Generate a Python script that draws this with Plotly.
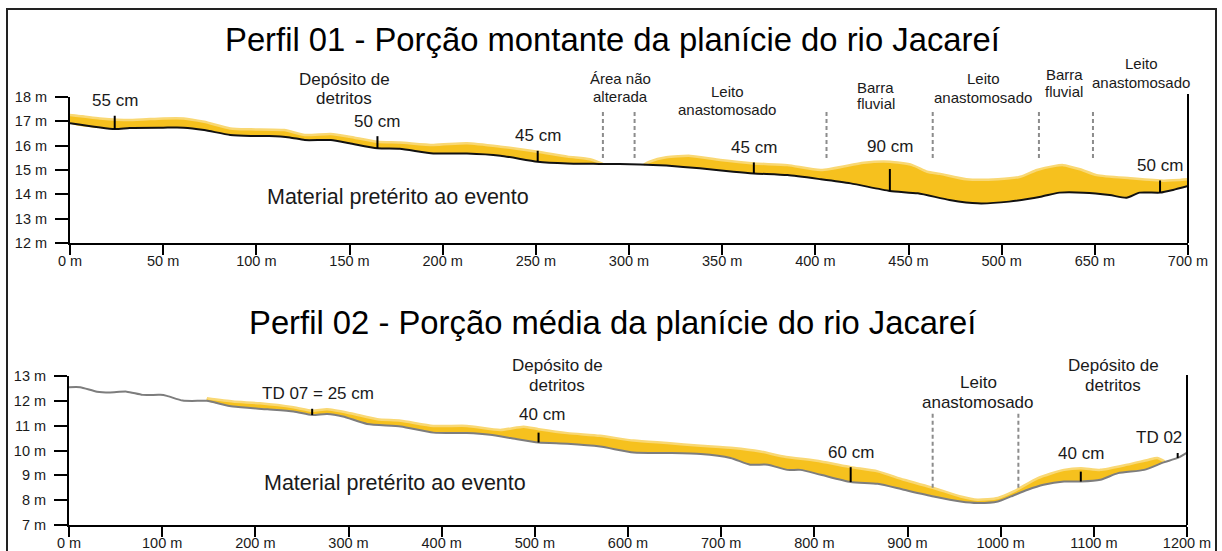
import numpy as np
import plotly.graph_objects as go

W, H = 1222, 551
FONT = "Arial, 'Liberation Sans', sans-serif"
INK = "#1a1a1a"
YELLOW = "#F6C11E"
YELLOW_EDGE = "#F9D874"

# ---------------- Perfil 01 ----------------
# pre-event ground surface (position along section, elevation in m)
p1_base_x = [0, 24, 32, 50, 61, 72, 86, 97, 107, 118, 126, 140, 150, 165, 177, 195, 213, 231,
             251, 267, 284, 306, 320, 338, 356, 367, 385, 403, 419, 440, 455, 472, 487, 504,
             521, 531, 544, 558, 567, 574, 585, 592, 600]
p1_base_y = [16.92, 16.68, 16.73, 16.74, 16.74, 16.64, 16.44, 16.40, 16.40, 16.34, 16.23, 16.23,
             16.10, 15.89, 15.87, 15.68, 15.68, 15.59, 15.34, 15.27, 15.25, 15.23, 15.18, 15.07,
             14.93, 14.86, 14.79, 14.62, 14.45, 14.14, 14.04, 13.77, 13.63, 13.70, 13.90, 14.07,
             14.07, 13.97, 13.86, 14.07, 14.07, 14.18, 14.34]

# top of the deposited material, two stretches separated by the unaltered area
p1_dep_a_x = [0, 16, 32, 50, 61, 72, 86, 97, 115, 126, 140, 150, 165, 177, 195, 213, 231, 251,
              267, 279, 286]
p1_dep_a_y = [17.26, 17.12, 17.05, 17.12, 17.12, 16.98, 16.71, 16.67, 16.64, 16.44, 16.48, 16.37,
              16.16, 16.13, 16.03, 16.10, 15.96, 15.75, 15.55, 15.44, 15.25]
p1_dep_b_x = [308, 311, 320, 333, 349, 367, 385, 403, 426, 440, 452, 460, 467, 481, 498, 510,
              519, 528, 533, 542, 551, 569, 587, 600]
p1_dep_b_y = [15.22, 15.34, 15.52, 15.58, 15.41, 15.27, 15.20, 15.00, 15.30, 15.34, 15.20, 14.93,
              14.84, 14.62, 14.62, 14.72, 15.00, 15.16, 15.20, 15.03, 14.79, 14.66, 14.56, 14.62]

# thickness measurements (cm)
p1_meas_x = [24, 165, 251, 367, 440, 585]
p1_meas_cm = [55, 50, 45, 45, 90, 50]

# unit boundaries
p1_limits_x = [286, 303, 406, 463, 520, 549]

p1_tickvals = [0, 50, 100, 150, 200, 250, 300, 350, 400, 450, 500, 550, 600]
p1_ticktext = ["0 m", "50 m", "100 m", "150 m", "200 m", "250 m", "300 m", "350 m",
               "400 m", "450 m", "500 m", "650 m", "700 m"]
p1_yticks = [12, 13, 14, 15, 16, 17, 18]

# ---------------- Perfil 02 ----------------
p2_base_x = [0, 12, 30, 44, 62, 79, 98, 105, 122, 141, 148, 176, 213, 241, 261, 277, 294, 320,
             356, 391, 427, 452, 474, 504, 535, 570, 606, 642, 678, 710, 731, 750, 771, 785,
             807, 839, 868, 896, 928, 957, 975, 997, 1011, 1029, 1046, 1068, 1086, 1107, 1126,
             1154, 1175, 1190, 1200]
p2_base_y = [12.55, 12.55, 12.37, 12.34, 12.37, 12.24, 12.24, 12.20, 12.01, 12.00, 12.00, 11.77,
             11.66, 11.57, 11.43, 11.47, 11.37, 11.07, 10.97, 10.72, 10.70, 10.63, 10.50, 10.32,
             10.27, 10.16, 9.92, 9.90, 9.86, 9.70, 9.43, 9.43, 9.22, 9.22, 9.02, 8.73, 8.66,
             8.42, 8.15, 7.95, 7.89, 7.95, 8.15, 8.42, 8.62, 8.75, 8.75, 8.82, 9.09, 9.22, 9.52,
             9.70, 9.92]

p2_dep_x = [148, 176, 205, 241, 261, 277, 302, 331, 356, 391, 427, 463, 488, 504, 535, 570,
            606, 642, 678, 713, 742, 767, 807, 839, 868, 896, 928, 957, 975, 997, 1014, 1040,
            1068, 1086, 1107, 1136, 1158, 1168, 1176]
p2_dep_y = [12.10, 11.97, 11.90, 11.74, 11.60, 11.66, 11.50, 11.26, 11.20, 10.99, 10.99, 10.83,
            10.96, 10.86, 10.70, 10.59, 10.40, 10.30, 10.19, 10.10, 9.96, 9.76, 9.56, 9.33, 9.16,
            8.82, 8.49, 8.15, 8.02, 8.09, 8.35, 8.89, 9.22, 9.29, 9.22, 9.43, 9.62, 9.70, 9.56]

p2_meas_x = [261, 504, 839, 1086, 1190]
p2_meas_cm = [25, 40, 60, 40, 20]
p2_meas_text = ["TD 07 = 25 cm", "40 cm", "60 cm", "40 cm", "TD 02"]

p2_limits_x = [927, 1019]

p2_tickvals = [0, 100, 200, 300, 400, 500, 600, 700, 800, 900, 1000, 1100, 1200]
p2_ticktext = [f"{v} m" for v in p2_tickvals]
p2_yticks = [7, 8, 9, 10, 11, 12, 13]


def px_x(px):
    return px / W


def px_y(py):
    return 1 - py / H


def deposit_polygon(tx, ty, bx, by):
    """Closed outline: deposit top left->right, then ground surface back."""
    tx = np.asarray(tx, float)
    ty = np.asarray(ty, float)
    bx = np.asarray(bx, float)
    by = np.asarray(by, float)
    inside = (bx > tx[0]) & (bx < tx[-1])
    back_x = np.concatenate([[tx[-1]], bx[inside][::-1], [tx[0]]])
    back_y = np.interp(back_x, bx, by)
    return np.concatenate([tx, back_x, [tx[0]]]), np.concatenate([ty, back_y, [ty[0]]])


fig = go.Figure()


def add_deposit(tx, ty, bx, by, xa, ya):
    px_, py_ = deposit_polygon(tx, ty, bx, by)
    fig.add_trace(go.Scatter(x=px_, y=py_, xaxis=xa, yaxis=ya, mode="lines", fill="toself",
                             fillcolor=YELLOW, line=dict(width=0, shape="spline", smoothing=0.6),
                             hoverinfo="skip", showlegend=False))
    fig.add_trace(go.Scatter(x=tx, y=ty, xaxis=xa, yaxis=ya, mode="lines",
                             line=dict(color=YELLOW_EDGE, width=2.5, shape="spline", smoothing=0.6),
                             hoverinfo="skip", showlegend=False))


def add_ground(bx, by, xa, ya, color):
    fig.add_trace(go.Scatter(x=bx, y=by, xaxis=xa, yaxis=ya, mode="lines",
                             line=dict(color=color, width=2, shape="spline", smoothing=0.6),
                             hoverinfo="skip", showlegend=False))


def add_measures(mx, mcm, bx, by, xa, ya):
    xs, ys = [], []
    for x, cm in zip(mx, mcm):
        b = float(np.interp(x, bx, by))
        xs += [x, x, None]
        ys += [b, b + cm / 100.0, None]
    fig.add_trace(go.Scatter(x=xs, y=ys, xaxis=xa, yaxis=ya, mode="lines",
                             line=dict(color="black", width=2),
                             hoverinfo="skip", showlegend=False))


# Perfil 01 drawing
add_deposit(p1_dep_a_x, p1_dep_a_y, p1_base_x, p1_base_y, "x", "y")
add_deposit(p1_dep_b_x, p1_dep_b_y, p1_base_x, p1_base_y, "x", "y")
add_ground(p1_base_x, p1_base_y, "x", "y", "#111111")
add_measures(p1_meas_x, p1_meas_cm, p1_base_x, p1_base_y, "x", "y")

# Perfil 02 drawing
add_deposit(p2_dep_x, p2_dep_y, p2_base_x, p2_base_y, "x2", "y2")
add_ground(p2_base_x, p2_base_y, "x2", "y2", "#7d7d7d")
add_measures(p2_meas_x, p2_meas_cm, p2_base_x, p2_base_y, "x2", "y2")

shapes = []
# dashed boundaries between units
for x in p1_limits_x:
    shapes.append(dict(type="line", xref="x", yref="y", x0=x, x1=x, y0=15.49, y1=17.47,
                       line=dict(color="#8c8c8c", width=2, dash="4px,3px")))
for x in p2_limits_x:
    shapes.append(dict(type="line", xref="x2", yref="y2", x0=x, x1=x, y0=8.5, y1=11.51,
                       line=dict(color="#8c8c8c", width=2, dash="4px,3px")))
# right-hand end lines of each section
shapes.append(dict(type="line", xref="paper", yref="paper", x0=px_x(1188), x1=px_x(1188),
                   y0=px_y(243), y1=px_y(94), line=dict(color="black", width=2)))
shapes.append(dict(type="line", xref="paper", yref="paper", x0=px_x(1187), x1=px_x(1187),
                   y0=px_y(525), y1=px_y(375), line=dict(color="black", width=2)))
# outer frame
shapes.append(dict(type="rect", xref="paper", yref="paper", x0=px_x(7), x1=px_x(1216),
                   y0=-0.05, y1=px_y(9), line=dict(color="#222222", width=2)))

annotations = []


def text_at(px, py, s, size, color=INK):
    annotations.append(dict(xref="paper", yref="paper", x=px_x(px), y=px_y(py), text=s,
                            showarrow=False, xanchor="center", yanchor="middle",
                            font=dict(family=FONT, size=size, color=color)))


def block_at(px, py_first, lines, size, gap):
    for i, s in enumerate(lines):
        text_at(px, py_first + i * gap, s, size)


# titles
text_at(612, 39, "Perfil 01 - Porção montante da planície do rio Jacareí", 32.8, "black")
text_at(612, 322, "Perfil 02 - Porção média da planície do rio Jacareí", 32.8, "black")

# Perfil 01 unit labels
block_at(344, 80, ["Depósito de", "detritos"], 17, 19)
block_at(621, 79, ["Área não", "alterada"], 15, 17)
block_at(727, 92, ["Leito", "anastomosado"], 15, 18)
block_at(876, 87, ["Barra", "fluvial"], 15, 17)
block_at(983, 79, ["Leito", "anastomosado"], 15, 18)
block_at(1064, 75, ["Barra", "fluvial"], 15, 17)
block_at(1141, 64, ["Leito", "anastomosado"], 15, 18)
text_at(398, 197, "Material pretérito ao evento", 21.5)

# Perfil 02 unit labels
block_at(557, 365, ["Depósito de", "detritos"], 17, 20)
block_at(978, 382, ["Leito", "anastomosado"], 17, 20)
block_at(1113, 365, ["Depósito de", "detritos"], 17, 20)
text_at(395, 483, "Material pretérito ao evento", 21.5)


def top_at(x, segments):
    for sx, sy in segments:
        if sx[0] <= x <= sx[-1]:
            return float(np.interp(x, sx, sy))
    return None


# thickness labels, placed just above each measurement
for x, cm in zip(p1_meas_x, p1_meas_cm):
    b = float(np.interp(x, p1_base_x, p1_base_y))
    t = top_at(x, [(p1_dep_a_x, p1_dep_a_y), (p1_dep_b_x, p1_dep_b_y)])
    y = max(b + cm / 100.0, t if t is not None else b)
    annotations.append(dict(xref="x", yref="y", x=x, y=y, yshift=15, text=f"{cm} cm",
                            showarrow=False, xanchor="center", yanchor="middle",
                            font=dict(family=FONT, size=17, color=INK)))

p2_label_xshift = [6, 3, 0, 0, -19]
for x, cm, s, dx in zip(p2_meas_x, p2_meas_cm, p2_meas_text, p2_label_xshift):
    b = float(np.interp(x, p2_base_x, p2_base_y))
    t = top_at(x, [(p2_dep_x, p2_dep_y)])
    y = max(b + cm / 100.0, t if t is not None else b)
    annotations.append(dict(xref="x2", yref="y2", x=x, y=y, yshift=15, xshift=dx, text=s,
                            showarrow=False, xanchor="center", yanchor="middle",
                            font=dict(family=FONT, size=17, color=INK)))

axis_common = dict(showline=True, linecolor="black", linewidth=2, ticks="outside",
                   tickwidth=2, tickcolor="black", showgrid=False, zeroline=False,
                   automargin=False,
                   tickfont=dict(family=FONT, size=14.5, color=INK), fixedrange=True)
x_axis_common = dict(ticklen=10, ticklabelstandoff=-6, **axis_common)
y_axis_common = dict(ticklen=13, ticklabelstandoff=5, **axis_common)

fig.update_layout(
    width=W, height=H,
    margin=dict(l=0, r=0, t=0, b=0, pad=0),
    paper_bgcolor="white", plot_bgcolor="white",
    showlegend=False,
    xaxis=dict(domain=[px_x(70), px_x(1188)], range=[0, 600], anchor="y",
               tickvals=p1_tickvals, ticktext=p1_ticktext, **x_axis_common),
    yaxis=dict(domain=[px_y(243), px_y(97)], range=[12, 18], anchor="x",
               tickvals=p1_yticks, ticktext=[f"{v} m" for v in p1_yticks], **y_axis_common),
    xaxis2=dict(domain=[px_x(69), px_x(1187)], range=[0, 1200], anchor="y2",
                tickvals=p2_tickvals, ticktext=p2_ticktext, **x_axis_common),
    yaxis2=dict(domain=[px_y(525), px_y(376)], range=[7, 13], anchor="x2",
                tickvals=p2_yticks, ticktext=[f"{v} m" for v in p2_yticks], **y_axis_common),
    shapes=shapes,
    annotations=annotations,
)

fig.write_html("out.html", config={"displayModeBar": False})
